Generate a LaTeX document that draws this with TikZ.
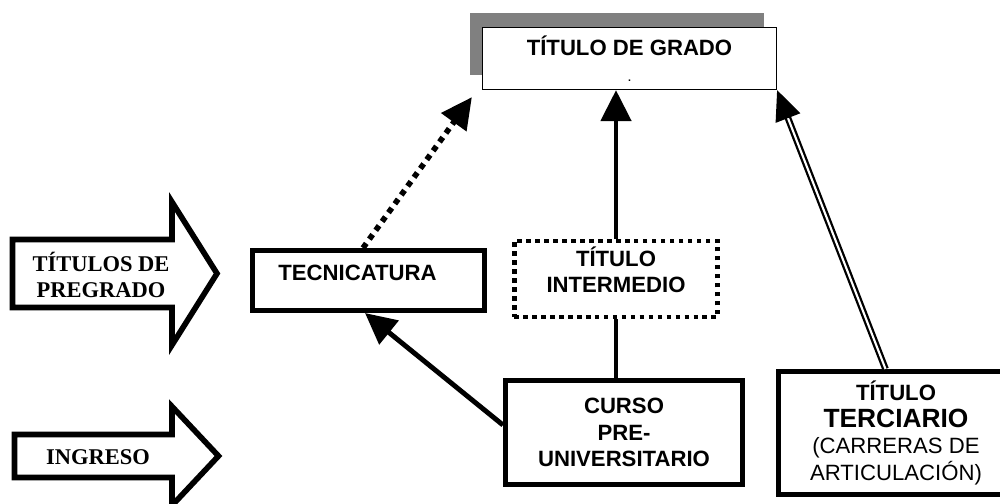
\documentclass[tikz,border=0pt]{standalone}
\usepackage{fontspec}
\setsansfont{Liberation Sans}
\newfontfamily\timesb{Liberation Serif}
\usetikzlibrary{arrows.meta,shadows}

\begin{document}
\begin{tikzpicture}[
    box/.style = {draw, line width=2.9pt, fill=white, align=center, font=\sffamily\bfseries\fontsize{12.6}{15}\selectfont},
    dotbox/.style = {box, line width=2.6pt, dash pattern=on 2.6pt off 2.5pt},
    gbox/.style = {box, line width=0.7pt, general shadow={fill=black!50, shadow xshift=-0.26cm, shadow yshift=0.3cm}},
    lbl/.style = {align=center, font=\timesb\bfseries\fontsize{12.8}{15}\selectfont},
    blockarrow/.style = {draw, line width=3.2pt, line join=miter},
    solidline/.style = {line width=2.8pt},
    solidarrow/.style = {solidline, -{Triangle[length=0.62cm,width=0.6cm]}},
    dotarrow/.style = {line width=3.2pt, dash pattern=on 3.2pt off 3pt, -{Triangle[length=0.62cm,width=0.6cm]}},
    dblarrow/.style = {double, double distance=1.2pt, line width=1.3pt, -{Triangle[length=0.6cm,width=0.52cm]}}
]
    \useasboundingbox (0,0) rectangle (20,10.06);

    % boxes
    \node[gbox, minimum width=5.88cm, minimum height=1.24cm] (grado) at (12.59,8.89) {TÍTULO DE GRADO\\{\fontsize{6}{6}\selectfont .}};
    \node[box, minimum width=4.64cm, minimum height=1.2cm, text depth=0.32cm] (tec) at (7.37,4.45) {TECNICATURA\hspace*{0.44cm}};
    \node[dotbox, minimum width=4.07cm, minimum height=1.47cm, text depth=0.36cm] (inter) at (12.32,4.48) {TÍTULO\\INTERMEDIO};
    \node[box, minimum width=4.74cm, minimum height=2.08cm] (curso) at (12.48,1.41) {CURSO\\PRE-\\UNIVERSITARIO};
    \node[box, minimum width=4.7cm, minimum height=2.46cm] (terc) at (17.92,1.40) {TÍTULO\\{\fontsize{15}{17}\selectfont TERCIARIO}\\{\mdseries (CARRERAS DE}\\{\mdseries ARTICULACIÓN)}};

    % block arrows on the left
    \draw[blockarrow] (0.25,5.27) -- (3.44,5.27) -- (3.44,6.02) -- (4.34,4.59) -- (3.44,3.16) -- (3.44,3.91) -- (0.25,3.91) -- cycle;
    \node[lbl] (pregrado) at (2.02,4.56) {TÍTULOS DE\\PREGRADO};
    \draw[blockarrow] (0.29,1.37) -- (3.44,1.37) -- (3.44,1.93) -- (4.37,0.94) -- (3.44,-0.05) -- (3.44,0.51) -- (0.29,0.51) -- cycle;
    \node[lbl] (ingreso) at (1.96,0.92) {INGRESO};

    % connectors
    \draw[dotarrow] ([xshift=-0.11cm]tec.north) -- ([shift={(-0.2,-0.14)}]grado.south west);
    \draw[solidarrow] (inter.north) -- (inter.north |- grado.south);
    \draw[solidline] (curso.north -| inter.south) -- (inter.south);
    \draw[solidarrow] ([yshift=0.15cm]curso.west) -- ([xshift=-0.07cm]tec.south);
    \draw[dblarrow] ([xshift=-0.21cm]terc.north) -- (grado.south east);
\end{tikzpicture}
\end{document}
